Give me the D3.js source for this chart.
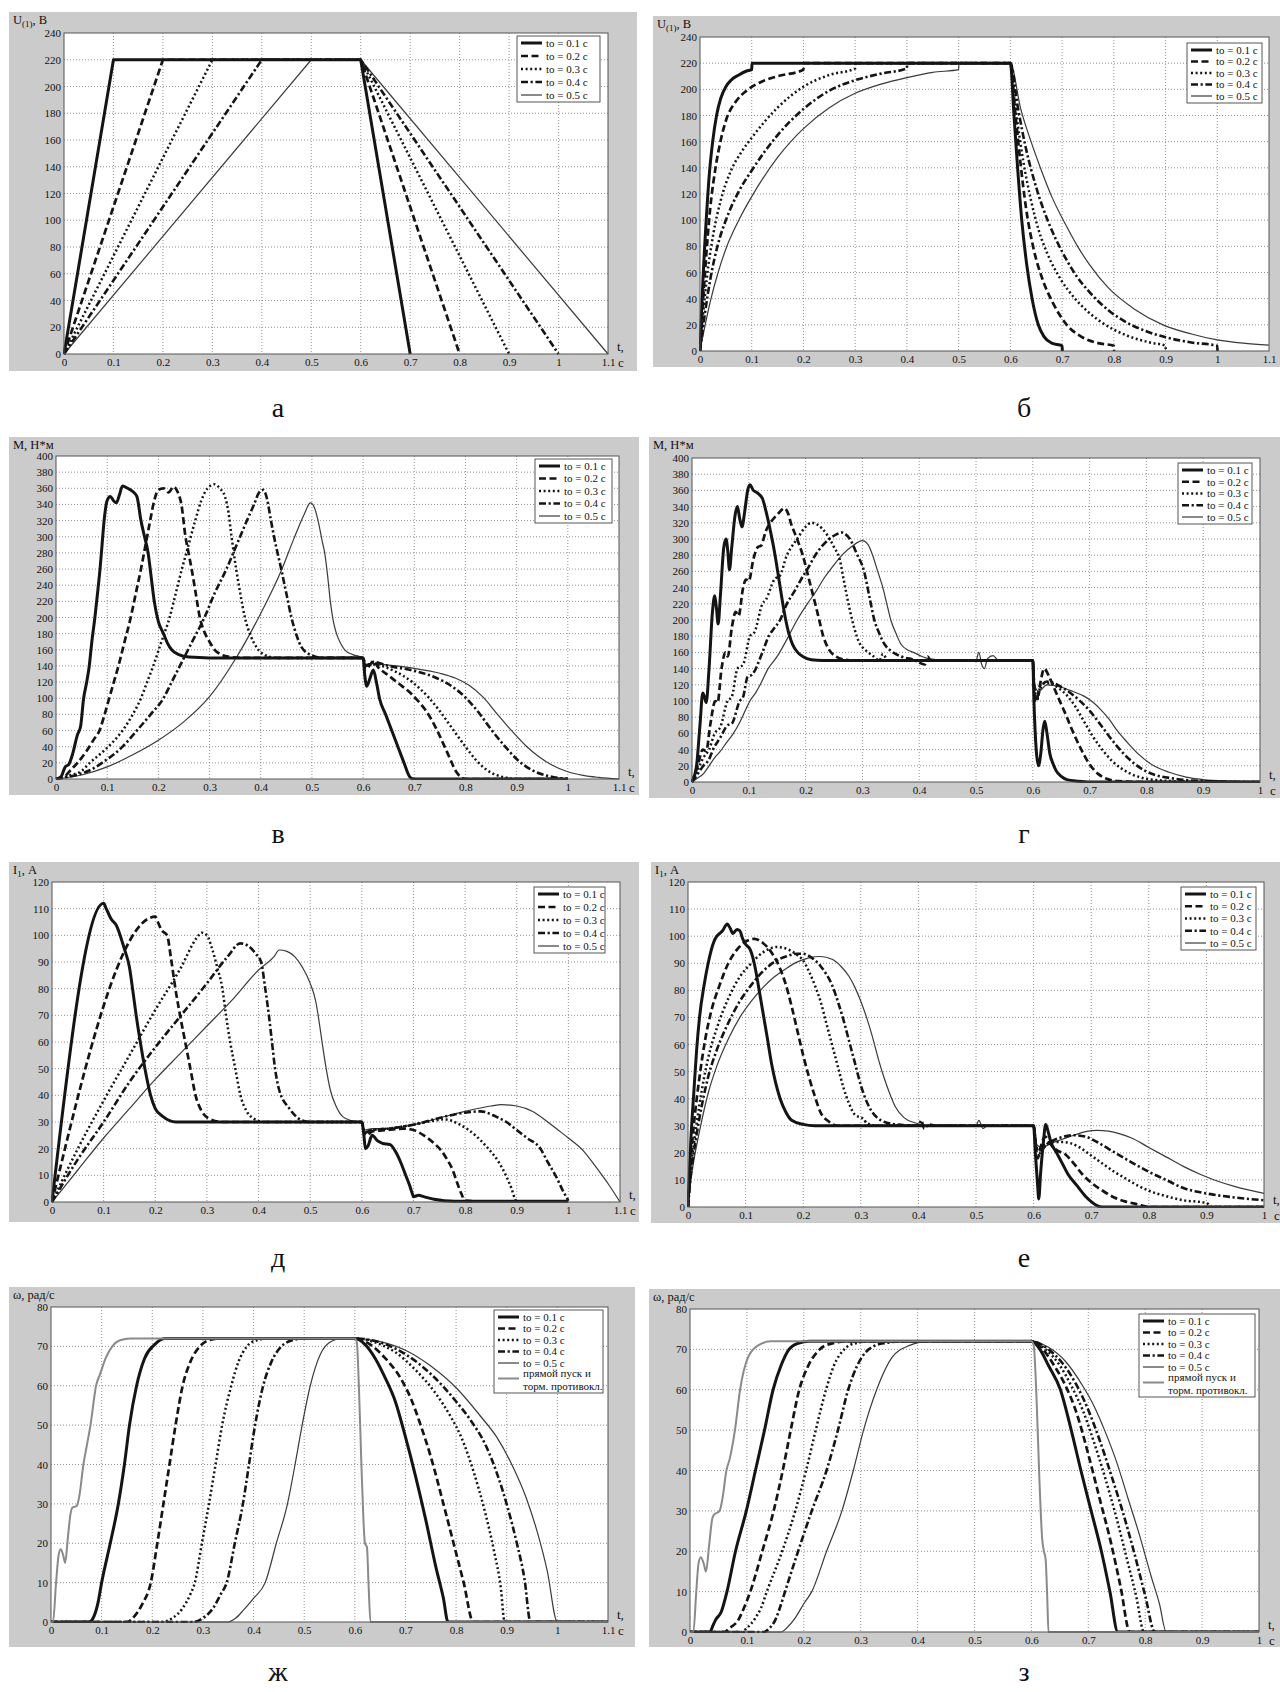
<!DOCTYPE html>
<html><head><meta charset="utf-8">
<script src="https://cdn.jsdelivr.net/npm/d3@7/dist/d3.min.js"></script>
<style>
html,body{margin:0;padding:0;background:#fff;}
svg text{font-family:"Liberation Serif","DejaVu Serif",serif;fill:#111;}
</style></head>
<body><svg id="chart" width="1280" height="1692"></svg>
<script>
// ---------- common labels ----------
const legendLabels = ["to = 0.1 с","to = 0.2 с","to = 0.3 с","to = 0.4 с","to = 0.5 с"];
const directLabel = ["прямой пуск и","торм. противокл."];
const captions = ["а","б","в","г","д","е","ж","з"];

// ---------- а : U(1), linear ----------
const a01 = [[0,0],[0.1,220],[0.6,220],[0.7,0]];
const a02 = [[0,0],[0.2,220],[0.6,220],[0.8,0]];
const a03 = [[0,0],[0.3,220],[0.6,220],[0.9,0]];
const a04 = [[0,0],[0.4,220],[0.6,220],[1.0,0]];
const a05 = [[0,0],[0.5,220],[0.6,220],[1.1,0]];

// ---------- б : U(1), exponential ----------
const b01 = [[0,0],[0.003,30],[0.006,57],[0.009,80],[0.012,100],[0.018,135],[0.0245,160],[0.032,180],[0.04,193],[0.05,202],[0.06,207],[0.075,211],[0.09,214],[0.1,215],[0.1005,220],[0.6,220],[0.607,180],[0.614,140],[0.622,100],[0.632,65],[0.642,40],[0.654,20],[0.665,11],[0.68,6],[0.7,4],[0.7005,0]];
const b02 = [[0,0],[0.005,33],[0.01,62],[0.015,88],[0.02,110],[0.03,140],[0.04,161],[0.05,176],[0.07,191],[0.09,199],[0.12,206],[0.15,210],[0.2,215],[0.2005,220],[0.6,220],[0.61,180],[0.62,142],[0.63,110],[0.645,78],[0.662,55],[0.682,37],[0.709,20],[0.737,11],[0.77,6],[0.8,4],[0.8005,0]];
const b03 = [[0,0],[0.006,28],[0.013,55],[0.026,90],[0.04,115],[0.06,138],[0.08,152],[0.1,163],[0.15,186],[0.2,202],[0.25,211],[0.3,216],[0.3005,220],[0.6,220],[0.612,180],[0.625,145],[0.64,115],[0.655,92],[0.672,74],[0.697,55],[0.725,40],[0.75,30],[0.776,22],[0.824,12],[0.87,6.5],[0.9,4],[0.9005,0]];
const b04 = [[0,0],[0.01,30],[0.02,55],[0.035,82],[0.05,100],[0.075,122],[0.1,138],[0.15,165],[0.2,185],[0.25,199],[0.3,207],[0.35,212],[0.4,216],[0.4005,220],[0.6,220],[0.615,185],[0.63,155],[0.65,125],[0.674,98],[0.7,76],[0.725,59],[0.753,45],[0.79,31],[0.824,22],[0.86,15.5],[0.9,10.5],[0.95,6.5],[1.0,4],[1.0005,0]];
const b05 = [[0,0],[0.01,20],[0.02,38],[0.035,60],[0.05,78],[0.075,100],[0.1,118],[0.15,148],[0.2,170],[0.25,186],[0.3,197],[0.35,204],[0.4,209],[0.45,213],[0.5,215],[0.5005,220],[0.6,220],[0.62,185],[0.64,160],[0.66,138],[0.68,118],[0.705,98],[0.73,80],[0.753,66],[0.79,48],[0.84,32],[0.895,20],[0.95,13],[1.0,8.5],[1.05,6],[1.1,4.5]];

// ---------- в : M, linear ramp ----------
const v01 = [[0,0],[0.01,3],[0.018,15],[0.025,18],[0.032,30],[0.042,55],[0.048,65],[0.054,100],[0.06,120],[0.065,140],[0.07,170],[0.076,200],[0.082,235],[0.086,260],[0.09,290],[0.094,320],[0.1,345],[0.106,350],[0.112,345],[0.118,342],[0.124,352],[0.13,363],[0.14,360],[0.15,356],[0.158,350],[0.166,320],[0.173,300],[0.18,280],[0.186,250],[0.192,220],[0.2,195],[0.21,180],[0.218,168],[0.226,160],[0.24,154],[0.26,151],[0.3,150],[0.6,150],[0.603,130],[0.607,115],[0.612,122],[0.62,135],[0.626,120],[0.632,100],[0.644,80],[0.656,60],[0.668,40],[0.68,20],[0.692,2],[0.7,0],[1.0,0]];
const v02 = [[0,0],[0.02,5],[0.03,12],[0.042,20],[0.06,35],[0.075,50],[0.085,60],[0.095,80],[0.104,100],[0.113,120],[0.122,140],[0.134,170],[0.146,200],[0.156,230],[0.166,260],[0.175,290],[0.184,320],[0.192,345],[0.2,358],[0.21,360],[0.22,355],[0.23,362],[0.238,355],[0.245,340],[0.253,300],[0.259,280],[0.265,260],[0.273,230],[0.281,200],[0.29,182],[0.3,170],[0.31,160],[0.32,155],[0.34,151],[0.36,150],[0.6,150],[0.604,135],[0.612,140],[0.62,146],[0.63,138],[0.65,128],[0.67,118],[0.69,108],[0.704,99],[0.72,87],[0.735,72],[0.744,61],[0.755,46],[0.765,32],[0.772,22],[0.78,11],[0.79,3],[0.8,0],[1.0,0]];
const v03 = [[0,0],[0.03,5],[0.05,10],[0.066,20],[0.09,33],[0.11,45],[0.13,60],[0.15,80],[0.166,100],[0.178,120],[0.19,140],[0.206,170],[0.222,200],[0.234,230],[0.246,260],[0.259,290],[0.272,320],[0.284,345],[0.296,360],[0.31,365],[0.32,360],[0.33,350],[0.337,330],[0.343,300],[0.352,260],[0.36,230],[0.369,200],[0.38,178],[0.393,162],[0.41,153],[0.43,150],[0.6,150],[0.605,140],[0.615,142],[0.63,141],[0.66,134],[0.696,120],[0.728,101],[0.75,84],[0.776,61],[0.8,40],[0.82,24],[0.84,12],[0.86,5],[0.88,1.5],[0.9,0],[1.0,0]];
const v04 = [[0,0],[0.04,5],[0.07,12],[0.09,20],[0.13,40],[0.158,60],[0.185,80],[0.21,100],[0.226,120],[0.242,140],[0.266,170],[0.29,200],[0.31,230],[0.333,260],[0.353,290],[0.373,320],[0.387,340],[0.397,355],[0.405,358],[0.413,345],[0.42,320],[0.426,300],[0.44,260],[0.45,230],[0.46,200],[0.47,178],[0.48,163],[0.5,153],[0.52,150],[0.6,150],[0.605,140],[0.62,145],[0.65,140],[0.7,134],[0.74,126],[0.768,117],[0.8,101],[0.825,83],[0.847,64],[0.875,42],[0.903,23],[0.93,11],[0.96,4],[1.0,0]];
const v05 = [[0,0],[0.05,5],[0.1,15],[0.15,30],[0.2,48],[0.25,71],[0.3,102],[0.35,148],[0.4,205],[0.44,258],[0.465,298],[0.485,328],[0.497,342],[0.505,336],[0.512,320],[0.52,295],[0.525,280],[0.531,250],[0.536,220],[0.542,195],[0.548,180],[0.556,168],[0.564,160],[0.58,154],[0.6,150],[0.605,142],[0.62,143],[0.65,141],[0.7,137],[0.75,131],[0.78,125],[0.807,116],[0.835,101],[0.86,82],[0.887,62],[0.92,40],[0.945,27],[0.967,18],[1.0,9],[1.03,4.5],[1.06,2],[1.1,0]];

// ---------- г : M, exponential ----------
const g01 = [[0,0],[0.008,20],[0.014,70],[0.019,110],[0.022,105],[0.025,98],[0.03,140],[0.036,210],[0.04,230],[0.043,215],[0.046,195],[0.05,230],[0.056,290],[0.06,300],[0.063,285],[0.066,262],[0.07,290],[0.076,330],[0.08,340],[0.084,325],[0.088,315],[0.093,335],[0.098,360],[0.102,367],[0.108,360],[0.115,357],[0.124,350],[0.13,335],[0.138,310],[0.145,285],[0.152,255],[0.158,228],[0.165,200],[0.171,182],[0.177,170],[0.186,160],[0.195,155],[0.21,151],[0.23,150],[0.6,150],[0.602,100],[0.606,40],[0.61,20],[0.614,35],[0.618,65],[0.621,75],[0.625,60],[0.63,35],[0.636,22],[0.641,14],[0.65,7],[0.66,3],[0.68,1],[0.7,0],[1.0,0]];
const g02 = [[0,0],[0.01,20],[0.019,40],[0.025,38],[0.032,70],[0.041,100],[0.045,98],[0.052,140],[0.059,160],[0.063,155],[0.07,190],[0.077,210],[0.082,205],[0.09,240],[0.095,250],[0.1,248],[0.108,275],[0.116,290],[0.122,292],[0.13,310],[0.138,320],[0.15,330],[0.163,338],[0.17,330],[0.174,320],[0.185,300],[0.195,280],[0.206,250],[0.217,220],[0.224,200],[0.231,180],[0.24,165],[0.253,155],[0.27,151],[0.29,150],[0.6,150],[0.602,120],[0.606,100],[0.612,118],[0.62,140],[0.63,128],[0.64,112],[0.65,96],[0.66,80],[0.67,63],[0.684,42],[0.698,24],[0.715,10],[0.73,4],[0.75,1],[0.8,0],[1.0,0]];
const g03 = [[0,0],[0.01,15],[0.02,30],[0.03,40],[0.04,60],[0.05,68],[0.0625,100],[0.07,105],[0.08,140],[0.09,145],[0.102,180],[0.11,185],[0.124,220],[0.13,225],[0.145,250],[0.155,255],[0.167,280],[0.175,290],[0.185,300],[0.2,315],[0.21,320],[0.22,318],[0.238,305],[0.25,290],[0.26,275],[0.267,250],[0.274,225],[0.282,200],[0.29,180],[0.296,170],[0.302,165],[0.31,160],[0.32,155],[0.33,150],[0.336,158],[0.345,150],[0.36,150],[0.6,150],[0.603,110],[0.607,100],[0.615,122],[0.63,122],[0.645,116],[0.66,107],[0.675,93],[0.69,75],[0.705,57],[0.72,42],[0.741,25],[0.77,11],[0.8,4],[0.85,1],[0.9,0],[1.0,0]];
const g04 = [[0,0],[0.01,10],[0.02,20],[0.03,28],[0.037,40],[0.05,55],[0.0625,70],[0.07,72],[0.084,100],[0.09,105],[0.098,130],[0.105,132],[0.124,160],[0.135,180],[0.145,190],[0.155,200],[0.167,220],[0.18,235],[0.192,250],[0.205,265],[0.217,280],[0.23,292],[0.242,300],[0.255,306],[0.264,308],[0.27,306],[0.278,300],[0.29,282],[0.303,260],[0.312,230],[0.321,200],[0.33,183],[0.339,170],[0.35,162],[0.368,155],[0.39,151],[0.41,145],[0.415,155],[0.42,150],[0.6,150],[0.603,115],[0.607,105],[0.615,118],[0.625,124],[0.64,121],[0.66,113],[0.68,102],[0.7,88],[0.72,70],[0.745,47],[0.77,28],[0.8,13],[0.85,4],[0.9,1],[0.95,0],[1.0,0]];
const g05 = [[0,0],[0.01,5],[0.02,10],[0.03,20],[0.04,30],[0.05,38],[0.06,48],[0.073,60],[0.085,75],[0.095,90],[0.102,100],[0.112,110],[0.12,120],[0.134,140],[0.15,155],[0.17,180],[0.185,200],[0.203,220],[0.218,235],[0.231,250],[0.25,268],[0.264,280],[0.28,290],[0.3,298],[0.31,293],[0.318,280],[0.327,260],[0.336,240],[0.343,220],[0.35,200],[0.36,182],[0.368,170],[0.38,163],[0.39,160],[0.405,155],[0.42,152],[0.45,150],[0.5,150],[0.505,160],[0.51,145],[0.515,140],[0.52,152],[0.53,156],[0.54,150],[0.6,150],[0.603,120],[0.61,112],[0.625,120],[0.65,117],[0.67,112],[0.69,106],[0.705,99],[0.72,89],[0.735,77],[0.748,64],[0.765,50],[0.785,35],[0.813,20],[0.84,12],[0.87,6],[0.9,3],[0.95,1],[1.0,0]];

// ---------- д : I1, linear ramp ----------
const d01 = [[0,0],[0.1,112],[0.105,110],[0.115,106],[0.124,104],[0.14,95],[0.15,88],[0.156,80],[0.163,70],[0.171,60],[0.18,50],[0.191,40],[0.2,35],[0.215,32],[0.24,30],[0.6,30],[0.604,25],[0.607,20],[0.612,21],[0.62,25],[0.63,23],[0.64,22],[0.655,21.5],[0.665,19],[0.675,15],[0.685,10],[0.693,6],[0.698,3],[0.7,2],[0.71,2.5],[0.72,2],[0.74,1],[0.76,0.5],[0.8,0.3],[1.0,0.3]];
const d02 = [[0,0],[0.2,107],[0.205,105],[0.212,102],[0.223,100],[0.23,92],[0.239,80],[0.248,70],[0.258,60],[0.268,50],[0.278,40],[0.29,34],[0.302,31.5],[0.33,30],[0.6,30],[0.604,26],[0.61,25],[0.62,26.5],[0.65,27],[0.68,27.5],[0.7,27],[0.72,25],[0.74,22],[0.755,19],[0.765,16],[0.776,12],[0.785,7],[0.793,3],[0.8,0.5],[0.82,0.3]];
const d03 = [[0,0],[0.05,20],[0.1,38],[0.15,55],[0.2,72],[0.25,88],[0.28,99],[0.29,101],[0.3,100],[0.31,95],[0.32,88],[0.33,80],[0.337,70],[0.345,60],[0.355,50],[0.365,40],[0.377,34],[0.389,31.5],[0.41,30],[0.6,30],[0.605,26],[0.62,27],[0.65,27.5],[0.7,29],[0.74,30.5],[0.76,31],[0.79,29],[0.82,25],[0.845,20],[0.865,15],[0.879,10],[0.89,5],[0.897,1],[0.9,0]];
const d04 = [[0,0],[0.05,16],[0.1,30],[0.15,45],[0.2,58],[0.25,70],[0.3,82],[0.34,92],[0.365,97],[0.38,96],[0.395,93],[0.405,90],[0.413,80],[0.42,70],[0.426,60],[0.432,50],[0.44,42],[0.46,35],[0.48,31],[0.5,30],[0.6,30],[0.605,26],[0.62,27],[0.65,27.5],[0.7,29],[0.75,31.5],[0.8,33.5],[0.83,34],[0.86,32],[0.88,30],[0.9,27],[0.92,24],[0.946,20],[0.96,15],[0.975,10],[0.99,4],[1.0,0.5]];
const d05 = [[0,0],[0.05,12],[0.1,24],[0.15,35],[0.2,46],[0.25,56],[0.3,66],[0.35,76],[0.4,87],[0.43,92],[0.44,94.5],[0.455,94],[0.47,92],[0.485,88],[0.5,82],[0.511,75],[0.517,68],[0.523,60],[0.531,50],[0.539,42],[0.55,36],[0.563,32],[0.58,30.5],[0.6,30],[0.605,27],[0.62,27.5],[0.65,27.5],[0.7,29],[0.75,31.5],[0.8,34],[0.85,36],[0.87,36.5],[0.9,36],[0.93,34],[0.96,30],[0.98,27],[1.0,24],[1.03,19],[1.05,14],[1.08,6],[1.1,0]];

// ---------- е : I1, exponential ----------
const e01 = [[0,0],[0.005,25],[0.01,42],[0.015,58],[0.02,70],[0.028,82],[0.035,90],[0.045,98],[0.05,100],[0.055,101],[0.06,102],[0.068,104.5],[0.073,103],[0.078,101],[0.085,102.5],[0.09,102],[0.095,99],[0.1,97],[0.108,95],[0.115,90],[0.122,82],[0.13,72],[0.138,62],[0.145,53],[0.152,46],[0.16,40],[0.17,35],[0.18,32],[0.2,30.5],[0.22,30],[0.6,30],[0.603,20],[0.607,8],[0.609,3],[0.612,12],[0.617,24],[0.621,30.5],[0.625,28],[0.63,24],[0.64,20],[0.65,16],[0.66,12],[0.675,8],[0.69,4],[0.7,2],[0.71,0.5],[0.72,0],[1.0,0]];
const e02 = [[0,0],[0.005,18],[0.01,30],[0.02,48],[0.03,62],[0.04,72],[0.055,82],[0.07,90],[0.085,95],[0.1,98],[0.115,99],[0.13,97.5],[0.145,94],[0.16,88],[0.17,82],[0.18,74],[0.19,65],[0.2,56],[0.21,48],[0.22,41],[0.23,35],[0.245,31.5],[0.26,30],[0.6,30],[0.604,22],[0.607,18],[0.612,22],[0.62,26],[0.63,23],[0.64,21],[0.655,19.5],[0.67,16],[0.685,12],[0.7,9],[0.72,6],[0.74,3.5],[0.76,2],[0.78,1],[0.8,0],[1.0,0]];
const e03 = [[0,0],[0.005,14],[0.01,23],[0.02,38],[0.035,55],[0.05,66],[0.07,77],[0.09,85],[0.11,90],[0.13,94],[0.155,96],[0.175,95],[0.19,93],[0.2,91],[0.21,87],[0.22,82],[0.23,76],[0.24,68],[0.25,60],[0.26,52],[0.27,44],[0.28,38],[0.29,34],[0.3,33],[0.305,32.5],[0.31,31],[0.33,30],[0.6,30],[0.605,22],[0.612,20],[0.62,23],[0.635,24],[0.65,24],[0.665,23.5],[0.68,22],[0.7,19],[0.72,16],[0.74,13],[0.76,10.5],[0.78,8],[0.8,6],[0.83,4],[0.86,2.5],[0.9,1.5],[0.91,0],[1.0,0]];
const e04 = [[0,0],[0.005,12],[0.01,20],[0.02,33],[0.035,48],[0.05,58],[0.07,68],[0.09,76],[0.11,82],[0.13,87],[0.15,90.5],[0.17,92.5],[0.19,93.5],[0.2,93.5],[0.215,92],[0.23,89],[0.24,86],[0.25,82],[0.26,76],[0.27,69],[0.28,61],[0.29,53],[0.3,45],[0.31,39],[0.32,35],[0.335,32],[0.36,30.5],[0.4,30],[0.405,32],[0.41,29],[0.418,30.5],[0.43,30],[0.6,30],[0.605,22],[0.612,21],[0.625,23.5],[0.645,25.5],[0.67,26.5],[0.69,26],[0.71,24],[0.73,21.5],[0.75,19],[0.77,16.5],[0.8,13],[0.83,10],[0.86,7],[0.9,5],[0.95,3.5],[1.0,2.5]];
const e05 = [[0,0],[0.005,10],[0.01,17],[0.02,28],[0.035,42],[0.05,52],[0.07,62],[0.09,70],[0.11,76],[0.13,81],[0.15,85],[0.17,88],[0.19,90.5],[0.21,92],[0.23,92.5],[0.25,91.5],[0.265,89],[0.28,85],[0.29,81],[0.3,76],[0.31,70],[0.32,63],[0.33,55],[0.34,48],[0.35,42],[0.36,37],[0.375,33],[0.395,31],[0.42,30],[0.5,30],[0.505,32],[0.512,29],[0.52,30],[0.6,30],[0.605,23],[0.615,22],[0.63,23.5],[0.65,25],[0.67,26.5],[0.69,27.8],[0.71,28.3],[0.73,28],[0.75,27],[0.77,25.5],[0.8,22],[0.83,18.5],[0.86,15],[0.89,12],[0.92,9.5],[0.95,7.5],[1.0,5]];

// ---------- ж : ω, linear ramp ----------
const zh01 = [[0,0],[0.075,0],[0.085,1.5],[0.093,5],[0.1,10],[0.117,20],[0.133,30],[0.145,40],[0.155,50],[0.169,60],[0.185,67],[0.205,70.5],[0.225,72],[0.6,72],[0.62,70.5],[0.64,67],[0.66,62],[0.68,56],[0.7,47],[0.72,37],[0.74,26],[0.76,14],[0.775,6],[0.784,0],[1.1,0]];
const zh02 = [[0,0],[0.15,0],[0.165,1.5],[0.18,4.5],[0.197,10],[0.21,20],[0.222,30],[0.234,40],[0.246,50],[0.26,60],[0.275,66],[0.294,70],[0.31,71.5],[0.33,72],[0.6,72],[0.63,70.5],[0.66,67],[0.69,62],[0.71,57],[0.73,50],[0.75,42],[0.775,30],[0.795,20],[0.815,10],[0.834,0],[1.1,0]];
const zh03 = [[0,0],[0.22,0],[0.24,1],[0.26,3.5],[0.275,7],[0.284,10],[0.298,20],[0.312,30],[0.325,40],[0.338,50],[0.356,60],[0.37,66],[0.387,70],[0.405,71.5],[0.43,72],[0.6,72],[0.64,71],[0.68,68.5],[0.72,64],[0.76,58],[0.79,52],[0.81,47],[0.835,38],[0.857,28],[0.875,18],[0.888,9],[0.896,0],[1.1,0]];
const zh04 = [[0,0],[0.28,0],[0.3,1],[0.32,3.5],[0.335,7],[0.347,10],[0.363,20],[0.379,30],[0.391,40],[0.403,50],[0.419,60],[0.435,66],[0.455,70],[0.475,71.5],[0.5,72],[0.6,72],[0.65,71],[0.7,68],[0.75,63],[0.8,56],[0.83,51],[0.858,45],[0.88,38],[0.902,29],[0.92,20],[0.935,11],[0.947,0],[1.1,0]];
const zh05 = [[0,0],[0.35,0],[0.365,1],[0.38,3],[0.4,6],[0.423,10],[0.445,20],[0.467,30],[0.482,40],[0.496,50],[0.512,60],[0.532,68],[0.55,71],[0.575,72],[0.6,72],[0.65,71.2],[0.7,69],[0.75,65],[0.8,59.5],[0.85,52],[0.88,47],[0.91,40],[0.94,31],[0.96,23],[0.98,13],[1.0,0],[1.1,0]];
const zhDirect = [[0,0],[0.004,0],[0.01,10],[0.015,17],[0.019,18.5],[0.024,17],[0.028,15],[0.033,21],[0.038,27],[0.042,29],[0.051,29.5],[0.056,32],[0.064,40],[0.071,45],[0.078,50],[0.089,60],[0.097,63],[0.108,67],[0.121,70],[0.135,71.5],[0.157,72],[0.6,72],[0.604,71],[0.608,60],[0.613,40],[0.617,26],[0.62,20],[0.624,19],[0.627,10],[0.631,0],[1.1,0]];

// ---------- з : ω, exponential ----------
const z01 = [[0,0],[0.035,0],[0.04,1.5],[0.045,3],[0.055,5],[0.065,10],[0.08,20],[0.099,30],[0.115,40],[0.131,50],[0.146,60],[0.16,66],[0.174,70],[0.19,71.5],[0.21,72],[0.6,72],[0.615,70],[0.63,66],[0.651,60],[0.67,50],[0.687,40],[0.705,30],[0.723,20],[0.738,10],[0.752,0],[1.0,0]];
const z02 = [[0,0],[0.06,0],[0.07,1],[0.085,3],[0.095,6],[0.106,10],[0.127,20],[0.147,30],[0.163,40],[0.177,50],[0.192,60],[0.208,66],[0.228,70],[0.25,71.5],[0.28,72],[0.6,72],[0.62,70],[0.64,66],[0.66,61],[0.68,54],[0.7,44],[0.72,33],[0.74,22],[0.757,11],[0.773,0],[1.0,0]];
const z03 = [[0,0],[0.09,0],[0.1,1],[0.115,3.5],[0.125,6],[0.135,10],[0.162,20],[0.185,30],[0.204,40],[0.221,50],[0.239,60],[0.253,66],[0.271,70],[0.29,71.5],[0.32,72],[0.6,72],[0.625,70],[0.65,66],[0.67,61],[0.69,55],[0.71,47],[0.73,38],[0.75,28],[0.768,18],[0.784,9],[0.798,0],[1.0,0]];
const z04 = [[0,0],[0.13,0],[0.14,1],[0.15,3],[0.158,6],[0.167,10],[0.19,20],[0.214,30],[0.24,40],[0.26,50],[0.278,60],[0.294,66],[0.314,70],[0.34,71.5],[0.38,72],[0.6,72],[0.63,70],[0.655,66.5],[0.68,61],[0.7,55],[0.72,47.5],[0.74,39],[0.76,30],[0.78,20],[0.8,9],[0.817,0],[1.0,0]];
const z05 = [[0,0],[0.16,0],[0.17,1],[0.185,3.5],[0.2,7],[0.214,10],[0.24,20],[0.267,30],[0.287,40],[0.305,50],[0.328,60],[0.355,68],[0.386,71],[0.42,72],[0.6,72],[0.63,70.5],[0.66,67],[0.69,61],[0.71,56],[0.73,49.5],[0.75,42],[0.77,33],[0.79,24],[0.81,14],[0.825,7],[0.837,0],[1.0,0]];
const zDirect = [[0,0],[0.006,0],[0.011,10],[0.015,17],[0.019,18.5],[0.024,17],[0.028,15],[0.034,22],[0.039,28],[0.042,29],[0.052,30],[0.057,33],[0.064,40],[0.07,43],[0.079,50],[0.088,60],[0.102,68],[0.12,71],[0.142,72],[0.6,72],[0.604,71],[0.609,58],[0.614,38],[0.619,23],[0.622,20],[0.625,18],[0.628,8],[0.63,0],[1.0,0]];

// ---------- styles (not data) ----------
const styles = [
  {w:3.0, dash:null, color:"#141414"},
  {w:2.7, dash:"7,3.5", color:"#141414"},
  {w:2.5, dash:"2,2.6", color:"#141414"},
  {w:2.6, dash:"7,2.6,2.2,2.6", color:"#141414"},
  {w:1.2, dash:null, color:"#3a3a3a"},
  {w:2.0, dash:null, color:"#8a8a8a"}
];

// ---------- panel layouts ----------
const panels = [
  {frame:[9,12,637,371], plot:[64,33,608,354], xMax:1.1, yMax:240, yStep:20, title:["U","(1)",", В"], legend:[517,36,600,102], tc:true, cap:[278,417], series:[a01,a02,a03,a04,a05], linear:true},
  {frame:[653,16,1280,367], plot:[700,37,1269,351], xMax:1.1, yMax:240, yStep:20, title:["U","(1)",", В"], legend:[1187,43,1262,103], tc:false, cap:[1024,417], series:[b01,b02,b03,b04,b05]},
  {frame:[9,437,639,795], plot:[56,456,619,779], xMax:1.1, yMax:400, yStep:20, title:["M, Н*м"], legend:[535,459,612,523], tc:true, cap:[278,843], series:[v01,v02,v03,v04,v05]},
  {frame:[649,437,1280,798], plot:[692,458,1260,782], xMax:1.0, yMax:400, yStep:20, title:["M, Н*м"], legend:[1178,463,1252,524], tc:true, cap:[1024,843], series:[g01,g02,g03,g04,g05]},
  {frame:[9,862,639,1222], plot:[52,882,620,1202], xMax:1.1, yMax:120, yStep:10, title:["I","1",", А"], legend:[534,887,605,953], tc:true, cap:[278,1267], series:[d01,d02,d03,d04,d05]},
  {frame:[651,862,1280,1223], plot:[688,882,1264,1207], xMax:1.0, yMax:120, yStep:10, title:["I","1",", А"], legend:[1181,887,1256,950], tc:true, cap:[1024,1267], series:[e01,e02,e03,e04,e05]},
  {frame:[9,1287,635,1647], plot:[51,1307,608,1622], xMax:1.1, yMax:80, yStep:10, title:["ω, рад/с"], legend:[494,1310,603,1393], tc:true, cap:[278,1681], series:[zh01,zh02,zh03,zh04,zh05,zhDirect], direct:true},
  {frame:[649,1289,1280,1647], plot:[690,1309,1259,1632], xMax:1.0, yMax:80, yStep:10, title:["ω, рад/с"], legend:[1139,1314,1255,1397], tc:true, cap:[1024,1681], series:[z01,z02,z03,z04,z05,zDirect], direct:true}
];

const svg = d3.select("#chart");
const fmt = d => String(+d.toFixed(1));

function applyStyle(sel, st){
  sel.attr("fill","none").attr("stroke",st.color).attr("stroke-width",st.w)
     .attr("stroke-linejoin","round").attr("stroke-linecap","butt");
  if (st.dash) sel.attr("stroke-dasharray", st.dash);
}

panels.forEach((p, pi) => {
  const g = svg.append("g");
  const [fx0,fy0,fx1,fy1] = p.frame;
  const [px0,py0,px1,py1] = p.plot;
  g.append("rect").attr("x",fx0).attr("y",fy0).attr("width",fx1-fx0).attr("height",fy1-fy0).attr("fill","#cbcbcb");
  g.append("rect").attr("x",px0).attr("y",py0).attr("width",px1-px0).attr("height",py1-py0).attr("fill","#fff");

  const x = d3.scaleLinear().domain([0,p.xMax]).range([px0,px1]);
  const y = d3.scaleLinear().domain([0,p.yMax]).range([py1,py0]);
  const xTicks = d3.range(0, Math.round(p.xMax*10)+1).map(i => i/10);
  const yTicks = d3.range(0, p.yMax + p.yStep/2, p.yStep);

  // grid
  g.append("g").selectAll("line").data(xTicks.slice(1,-1)).join("line")
    .attr("x1",d=>x(d)).attr("x2",d=>x(d)).attr("y1",py0).attr("y2",py1)
    .attr("stroke","#777").attr("stroke-width",0.8).attr("stroke-dasharray","1,2");
  g.append("g").selectAll("line").data(yTicks.slice(1,-1)).join("line")
    .attr("x1",px0).attr("x2",px1).attr("y1",d=>y(d)).attr("y2",d=>y(d))
    .attr("stroke","#777").attr("stroke-width",0.8).attr("stroke-dasharray","1,2");

  // axes
  const ax = g.append("g").attr("transform",`translate(0,${py1})`)
    .call(d3.axisBottom(x).tickValues(xTicks).tickFormat(fmt).tickSize(0).tickPadding(4));
  ax.select(".domain").remove();
  ax.selectAll("text").attr("font-size",11).attr("font-family","Liberation Serif").attr("fill","#111");
  const ay = g.append("g").attr("transform",`translate(${px0},0)`)
    .call(d3.axisLeft(y).tickValues(yTicks).tickFormat(d=>String(d)).tickSize(0).tickPadding(3));
  ay.select(".domain").remove();
  ay.selectAll("text").attr("font-size",11).attr("font-family","Liberation Serif").attr("fill","#111");

  // clip
  const cid = "clip"+pi;
  svg.append("clipPath").attr("id",cid).append("rect")
    .attr("x",px0-1).attr("y",py0-2).attr("width",px1-px0+2).attr("height",py1-py0+3);

  const line = d3.line().x(d=>x(d[0])).y(d=>y(d[1]))
    .curve(p.linear ? d3.curveLinear : d3.curveMonotoneX);
  const lg = g.append("g").attr("clip-path",`url(#${cid})`);
  const order = p.direct ? [4,3,2,1,0,5] : [4,3,2,1,0];
  order.forEach(i => {
    applyStyle(lg.append("path").attr("d", line(p.series[i])), styles[i]);
  });

  // plot border
  g.append("rect").attr("x",px0).attr("y",py0).attr("width",px1-px0).attr("height",py1-py0)
    .attr("fill","none").attr("stroke","#555").attr("stroke-width",1);

  // y title
  const tt = g.append("text").attr("x",fx0+4).attr("y",fy0+12).attr("font-size",12.5);
  if (p.title.length === 3) {
    tt.append("tspan").text(p.title[0]);
    tt.append("tspan").attr("font-size",9).attr("dy",3).text(p.title[1]);
    tt.append("tspan").attr("dy",-3).text(p.title[2]);
  } else {
    tt.text(p.title[0]);
  }

  // t, c
  if (p.tc) {
    g.append("text").attr("x",px1+9).attr("y",py1-3).attr("font-size",13).text("t,");
    g.append("text").attr("x",px1+10).attr("y",py1+13).attr("font-size",13).text("с");
  }

  // legend
  const [lx0,ly0,lx1,ly1] = p.legend;
  g.append("rect").attr("x",lx0).attr("y",ly0).attr("width",lx1-lx0).attr("height",ly1-ly0)
    .attr("fill","#fff").attr("stroke","#444").attr("stroke-width",0.9);
  const nEntries = p.direct ? 6 : 5;
  const first = 7;
  const step = p.direct ? 11.5 : (ly1 - ly0 - 14) / 4;
  for (let i=0;i<nEntries;i++){
    let ry = ly0 + first + i*step;
    if (i===5) ry += 4;
    applyStyle(g.append("line").attr("x1",lx0+4).attr("x2",lx0+25).attr("y1",ry).attr("y2",ry), styles[i]);
    if (i<5) {
      g.append("text").attr("x",lx0+29).attr("y",ry+3.8).attr("font-size",11).text(legendLabels[i]);
    } else {
      g.append("text").attr("x",lx0+29).attr("y",ry-1.5).attr("font-size",11).text(directLabel[0]);
      g.append("text").attr("x",lx0+29).attr("y",ry+11).attr("font-size",11).text(directLabel[1]);
    }
  }

  // caption
  g.append("text").attr("x",p.cap[0]).attr("y",p.cap[1]).attr("text-anchor","middle")
    .attr("font-size",28).text(captions[pi]);
});
</script>
</body></html>
